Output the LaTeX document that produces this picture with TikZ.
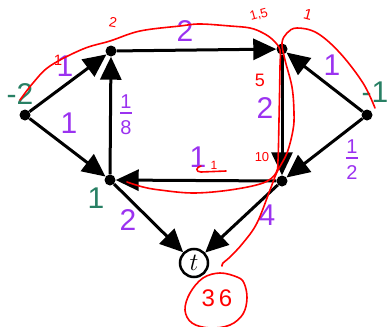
\documentclass[tikz,border=0pt]{standalone}
\usepackage{fontspec}
\setmainfont{Liberation Sans}
\usetikzlibrary{arrows.meta}

\definecolor{costviolet}{RGB}{155,50,240}
\definecolor{potgreen}{RGB}{40,128,100}
\definecolor{inkred}{RGB}{255,0,0}

\tikzset{
	flownet/.style={
			x=1pt, y=-1pt,
			vertex/.style={circle, fill=black, minimum size=11pt, inner sep=0pt},
			sink/.style={circle, draw, line width=2.5pt, minimum size=28pt, inner sep=0pt, font=\fontsize{28}{28}\selectfont},
			arc/.style={line width=3pt, -{Triangle[length=23pt,width=21pt]}},
			cost/.style={text=costviolet, inner sep=0pt, font=\fontsize{30}{30}\selectfont},
			fraclbl/.style={text=costviolet, inner sep=0pt, align=center, font=\fontsize{20}{20}\selectfont},
			pot/.style={text=potgreen, inner sep=0pt, font=\fontsize{30}{30}\selectfont},
			ink/.style={draw=inkred, line width=1.6pt, line cap=round, line join=round},
			inknote/.style={text=inkred, inner sep=0pt},
		}
}

\newcommand\vfrac[2]{#1\\[-15pt]\rule{12pt}{1.6pt}\\[1pt]#2}

\begin{document}
\begin{tikzpicture}[flownet]
		\useasboundingbox (0,0) rectangle (389,327);
		\node[vertex] (L) at (25,115) {};
		\node[vertex] (TL) at (111,51) {};
		\node[vertex] (TR) at (282,49) {};
		\node[vertex] (R) at (367,115) {};
		\node[vertex] (BL) at (110,180) {};
		\node[vertex] (BR) at (282,181) {};
		\node[sink] (t) at (194,263) {$t$};

		\draw[arc] (L) -- (TL);
		\draw[arc] (L) -- (BL);
		\draw[arc] (BL) -- (TL);
		\draw[arc] (TL) -- (TR);
		\draw[arc] (TR) -- (BR);
		\draw[arc] (R) -- (TR);
		\draw[arc] (R) -- (BR);
		\draw[arc] (BR) -- (BL);
		\draw[arc] (BL) -- (t);
		\draw[arc] (BR) -- (t);

		\node[pot] (potL) at (20,94) {-2};
		\node[pot] (potR) at (375,92) {-1};
		\node[pot] (potBL) at (96,198) {1};

		\node[cost] (cLTL) at (65,66) {1};
		\node[cost] (cLBL) at (69,123) {1};
		\node[cost] (cTop) at (185,31) {2};
		\node[cost] (cTRBR) at (265,108) {2};
		\node[cost] (cRTR) at (332,65) {1};
		\node[cost] (cBot) at (198,157) {1};
		\node[cost] (cBLt) at (128,220) {2};
		\node[cost] (cBRt) at (267,215) {4};
		\node[fraclbl] (cBLTL) at (126,115) {\vfrac{1}{8}};
		\node[fraclbl] (cRBR) at (352,160) {\vfrac{1}{2}};

		\draw[ink] plot[smooth, tension=0.6] coordinates {(20,100) (33,83) (50,66) (83,49) (110,41) (140,31) (180,26) (200,24) (230,26) (250,28) (263,33) (273,40) (280,50) (280,67) (279,120) (278,160) (276,173) (263,183) (230,190) (193,193) (160,190) (143,187) (127,182)};
		\draw[ink] plot[smooth, tension=0.6] coordinates {(375,108) (363,83) (340,53) (317,33) (297,28) (287,33) (282,43) (285,60) (292,87) (294,113) (293,130) (287,153) (277,172) (270,190) (257,223) (243,243) (230,257) (223,263) (222,266)};
		\draw[ink] plot[smooth cycle, tension=0.6] coordinates {(237,277) (220,273) (203,278) (190,293) (185,310) (192,323) (210,328) (230,325) (243,314) (247,298) (244,283)};
		\draw[ink] (226,171) -- (201,172) .. controls (195,172) and (196,167) .. (201,166);

		\node[inknote, font=\fontsize{14}{14}\selectfont, rotate=-10] (nTwo) at (113,22) {2};
		\node[inknote, font=\fontsize{15}{15}\selectfont] (nOne) at (58,60) {1};
		\node[inknote, font=\fontsize{13}{13}\selectfont, rotate=15] (nOneFive) at (259,15) {1,5};
		\node[inknote, font=\fontsize{15}{15}\selectfont, rotate=-15] (nOneTop) at (308,15) {1};
		\node[inknote, font=\fontsize{18}{18}\selectfont] (nFive) at (260,80) {5};
		\node[inknote, font=\fontsize{13}{13}\selectfont] (nTen) at (262,157) {10};
		\node[inknote, font=\fontsize{12}{12}\selectfont] (nOneBot) at (214,165) {1};
		\node[inknote, font=\fontsize{24}{24}\selectfont] (nTotal) at (217,298) {3\,6};
	\end{tikzpicture}
\end{document}
